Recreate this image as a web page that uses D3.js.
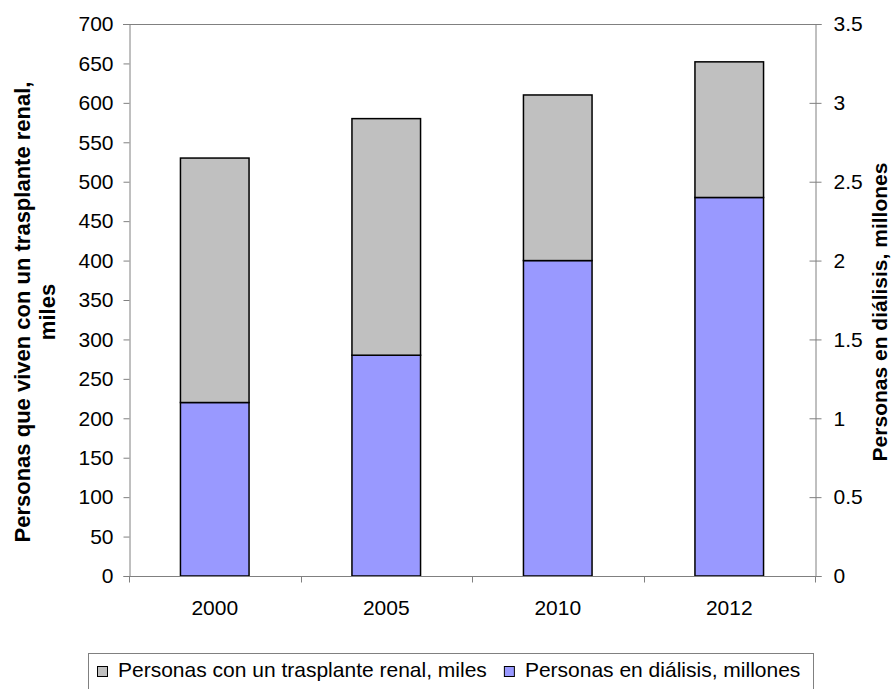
<!DOCTYPE html>
<html>
<head>
<meta charset="utf-8">
<script src="https://cdn.jsdelivr.net/npm/d3@7"></script>
<style>
  body { margin: 0; background: #fff; }
  svg { display: block; font-family: "Liberation Sans", Arial, sans-serif; }
</style>
</head>
<body>
<svg id="chart" width="894" height="689"></svg>
<script>
// data
const years = ["2000", "2005", "2010", "2012"];
const transplante = [310, 300, 210, 172];   // miles (left axis)
const dialisis = [1.1, 1.4, 2.0, 2.4];      // millones (right axis)
const leftTicks = d3.range(0, 701, 50);
const rightTicks = d3.range(0, 3.51, 0.5);
const seriesNames = ["Personas con un trasplante renal, miles", "Personas en diálisis, millones"];
const seriesColors = ["#c0c0c0", "#9999ff"];

const svg = d3.select("#chart");
const plotL = 129, plotR = 815, plotT = 24, plotB = 576;
const axisColor = "#808080";

const x = d3.scaleBand().domain(years).range([plotL, plotR]).paddingInner(0.6).paddingOuter(0.3);
const yL = d3.scaleLinear().domain([0, 700]).range([plotB, plotT]);
const yR = d3.scaleLinear().domain([0, 3.5]).range([plotB, plotT]);

// top border of plot area
svg.append("line")
  .attr("x1", plotL - 6).attr("x2", plotR)
  .attr("y1", plotT + 0.5).attr("y2", plotT + 0.5)
  .attr("stroke", axisColor);

// bars
const rows = years.map((y, i) => ({ year: y, t: transplante[i], d: dialisis[i] }));
const g = svg.append("g");
g.selectAll("rect.dial")
  .data(rows).enter().append("rect")
  .attr("class", "dial")
  .attr("x", d => x(d.year))
  .attr("width", x.bandwidth())
  .attr("y", d => yR(d.d))
  .attr("height", d => plotB - yR(d.d))
  .attr("fill", seriesColors[1])
  .attr("stroke", "#000").attr("stroke-width", 1.5);

// transplant stacked on top of the dialysis bar
g.selectAll("rect.trans")
  .data(rows).enter().append("rect")
  .attr("class", "trans")
  .attr("x", d => x(d.year))
  .attr("width", x.bandwidth())
  .attr("y", d => yR(d.d) - (yL(0) - yL(d.t)))
  .attr("height", d => yL(0) - yL(d.t))
  .attr("fill", seriesColors[0])
  .attr("stroke", "#000").attr("stroke-width", 1.5);

// left axis
const axL = svg.append("g")
  .attr("transform", `translate(${plotL + 0.5},0)`)
  .call(d3.axisLeft(yL).tickValues(leftTicks).tickSize(6).tickPadding(10));
axL.selectAll("text").style("font-size", "21px").attr("fill", "#000");

// right axis, ticks cross the line
const axR = svg.append("g")
  .attr("transform", `translate(${plotR + 0.5},0)`)
  .call(d3.axisRight(yR).tickValues(rightTicks).tickSize(6).tickPadding(12)
    .tickFormat(d => d3.format("~g")(d)));
axR.selectAll(".tick line").attr("x1", -6);
axR.selectAll("text").style("font-size", "21px").attr("fill", "#000");

// bottom axis, ticks between categories
const axB = svg.append("g").attr("transform", `translate(0,${plotB + 0.5})`);
axB.append("line").attr("x1", plotL).attr("x2", plotR + 6).attr("stroke", axisColor);
const bounds = years.map(y => x(y) - x.step() * x.paddingInner() / 2).concat([plotR]);
axB.selectAll("line.tk").data(bounds).enter().append("line")
  .attr("class", "tk")
  .attr("x1", d => Math.round(d) + 0.5).attr("x2", d => Math.round(d) + 0.5)
  .attr("y1", 0).attr("y2", 6)
  .attr("stroke", axisColor);
axB.selectAll("text").data(years).enter().append("text")
  .attr("x", d => x(d) + x.bandwidth() / 2)
  .attr("y", 38)
  .attr("text-anchor", "middle")
  .style("font-size", "21px")
  .text(d => d);

[axL, axR].forEach(a => {
  a.select(".domain").attr("stroke", axisColor);
  a.selectAll(".tick line").attr("stroke", axisColor);
});

// axis titles
const midY = 312;
svg.append("text")
  .attr("transform", `translate(30,${midY}) rotate(-90)`)
  .attr("text-anchor", "middle")
  .style("font-size", "22px").style("font-weight", "bold")
  .text("Personas que viven con un trasplante renal,");
svg.append("text")
  .attr("transform", `translate(55,${midY}) rotate(-90)`)
  .attr("text-anchor", "middle")
  .style("font-size", "22px").style("font-weight", "bold")
  .text("miles");
svg.append("text")
  .attr("transform", `translate(887,${midY}) rotate(-90)`)
  .attr("text-anchor", "middle")
  .style("font-size", "21px").style("font-weight", "bold")
  .text("Personas en diálisis, millones");

// legend
const legend = svg.append("g");
legend.append("rect")
  .attr("x", 88.5).attr("y", 653.5)
  .attr("width", 725).attr("height", 45)
  .attr("fill", "#fff").attr("stroke", axisColor);
let lx = 97;
seriesNames.forEach((name, i) => {
  legend.append("rect")
    .attr("x", lx + 0.5).attr("y", 666.5)
    .attr("width", 10).attr("height", 10)
    .attr("fill", seriesColors[i]).attr("stroke", "#000");
  const t = legend.append("text")
    .attr("x", lx + 21).attr("y", 677)
    .style("font-size", "21px")
    .text(name);
  lx += 21 + t.node().getComputedTextLength() + 17;
});
</script>
</body>
</html>
